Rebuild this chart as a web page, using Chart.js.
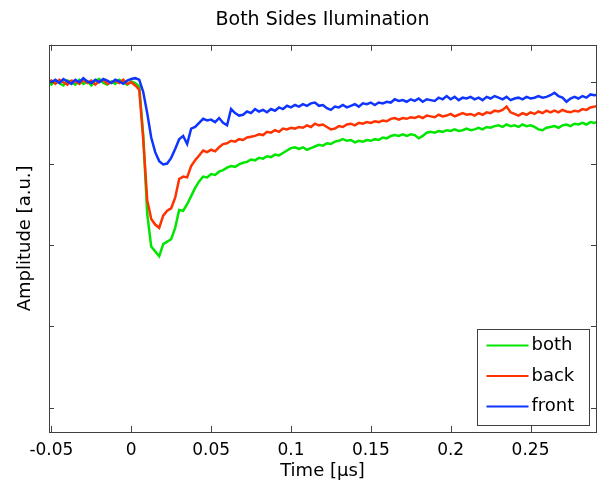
<!DOCTYPE html>
<html>
<head>
<meta charset="utf-8">
<script src="https://cdn.jsdelivr.net/npm/chart.js@4"></script>
<style>
  html, body { margin: 0; padding: 0; background: #fff; }
</style>
</head>
<body>
<canvas id="chart" width="602" height="485"></canvas>
<script>
// Tiempo (µs)
const time = [
  -0.0525, -0.05, -0.0475, -0.045, -0.0425, -0.04, -0.0375, -0.035, -0.0325, -0.03,
  -0.0275, -0.025, -0.0225, -0.02, -0.0175, -0.015, -0.0125, -0.01, -0.0075, -0.005,
  -0.0025, 0, 0.0025, 0.005, 0.0075, 0.01, 0.0125, 0.015, 0.0175, 0.02,
  0.0225, 0.025, 0.0275, 0.03, 0.0325, 0.035, 0.0375, 0.04, 0.0425, 0.045,
  0.0475, 0.05, 0.0525, 0.055, 0.0575, 0.06, 0.0625, 0.065, 0.0675, 0.07,
  0.0725, 0.075, 0.0775, 0.08, 0.0825, 0.085, 0.0875, 0.09, 0.0925, 0.095,
  0.0975, 0.1, 0.1025, 0.105, 0.1075, 0.11, 0.1125, 0.115, 0.1175, 0.12,
  0.1225, 0.125, 0.1275, 0.13, 0.1325, 0.135, 0.1375, 0.14, 0.1425, 0.145,
  0.1475, 0.15, 0.1525, 0.155, 0.1575, 0.16, 0.1625, 0.165, 0.1675, 0.17,
  0.1725, 0.175, 0.1775, 0.18, 0.1825, 0.185, 0.1875, 0.19, 0.1925, 0.195,
  0.1975, 0.2, 0.2025, 0.205, 0.2075, 0.21, 0.2125, 0.215, 0.2175, 0.22,
  0.2225, 0.225, 0.2275, 0.23, 0.2325, 0.235, 0.2375, 0.24, 0.2425, 0.245,
  0.2475, 0.25, 0.2525, 0.255, 0.2575, 0.26, 0.2625, 0.265, 0.2675, 0.27,
  0.2725, 0.275, 0.2775, 0.28, 0.2825, 0.285, 0.2875, 0.29, 0.2925
];

// Amplitud (u.a.) de cada iluminación
const both = [
  0.01, -0.03, 0.02, -0.01, -0.04, 0.02, 0.00, -0.03, 0.03, -0.02,
  0.01, -0.04, 0.02, 0.04, -0.01, -0.03, 0.01, -0.02, 0.03, 0.00,
  -0.03, 0.01, -0.01, -0.05, -0.65, -1.62, -2.02, -2.08, -2.14, -1.99,
  -1.96, -1.93, -1.79, -1.57, -1.58, -1.50, -1.40, -1.30, -1.22, -1.16,
  -1.17, -1.13, -1.14, -1.10, -1.08, -1.05, -1.03, -1.04, -1.01, -0.99,
  -0.98, -0.95, -0.96, -0.93, -0.94, -0.91, -0.92, -0.89, -0.90, -0.87,
  -0.84, -0.81, -0.80, -0.82, -0.80, -0.83, -0.81, -0.79, -0.77, -0.78,
  -0.75, -0.76, -0.73, -0.72, -0.70, -0.72, -0.71, -0.74, -0.72, -0.73,
  -0.71, -0.72, -0.70, -0.71, -0.68, -0.69, -0.66, -0.65, -0.66, -0.64,
  -0.66, -0.64, -0.65, -0.69, -0.66, -0.62, -0.61, -0.62, -0.60, -0.61,
  -0.59, -0.60, -0.58, -0.60, -0.59, -0.57, -0.59, -0.58, -0.56, -0.58,
  -0.55, -0.56, -0.54, -0.53, -0.55, -0.52, -0.54, -0.53, -0.55, -0.52,
  -0.54, -0.53, -0.55, -0.58, -0.59, -0.56, -0.55, -0.54, -0.56, -0.53,
  -0.52, -0.54, -0.51, -0.52, -0.50, -0.52, -0.49, -0.50, -0.48
];

const back = [
  -0.01, 0.02, -0.02, 0.03, 0.00, -0.03, 0.02, 0.01, -0.02, 0.03,
  -0.01, 0.02, -0.03, 0.01, 0.03, -0.02, 0.00, 0.02, -0.01, 0.03,
  -0.02, 0.00, -0.04, -0.09, -0.70, -1.45, -1.68, -1.75, -1.79, -1.64,
  -1.58, -1.55, -1.42, -1.19, -1.16, -1.17, -1.03, -0.96, -0.90, -0.84,
  -0.86, -0.83, -0.85, -0.80, -0.76, -0.75, -0.72, -0.73, -0.70, -0.71,
  -0.68, -0.67, -0.66, -0.64, -0.65, -0.61, -0.62, -0.59, -0.61, -0.57,
  -0.58, -0.56, -0.57, -0.55, -0.56, -0.53, -0.55, -0.51, -0.53, -0.52,
  -0.55, -0.58, -0.57, -0.54, -0.55, -0.52, -0.51, -0.53, -0.50, -0.51,
  -0.49, -0.50, -0.48, -0.49, -0.47, -0.48, -0.45, -0.44, -0.46, -0.44,
  -0.45, -0.43, -0.44, -0.42, -0.44, -0.41, -0.42, -0.43, -0.40, -0.42,
  -0.41, -0.39, -0.42, -0.40, -0.38, -0.40, -0.39, -0.41, -0.38, -0.40,
  -0.37, -0.38, -0.35, -0.36, -0.34, -0.30, -0.37, -0.39, -0.41, -0.38,
  -0.40, -0.37, -0.39, -0.36, -0.38, -0.35, -0.37, -0.35, -0.37, -0.34,
  -0.36, -0.37, -0.35, -0.36, -0.33, -0.34, -0.31, -0.30, -0.29
];

const front = [
  0.02, 0.00, 0.03, -0.01, 0.04, 0.01, -0.02, 0.03, 0.00, 0.05,
  0.01, -0.01, 0.03, 0.00, 0.04, 0.02, -0.01, 0.03, 0.01, -0.02,
  0.02, 0.04, 0.05, 0.03, -0.12, -0.38, -0.68, -0.86, -0.97, -1.01,
  -1.00, -0.93, -0.82, -0.70, -0.66, -0.76, -0.57, -0.55, -0.50, -0.45,
  -0.47, -0.46, -0.49, -0.44, -0.50, -0.53, -0.33, -0.38, -0.41, -0.40,
  -0.36, -0.38, -0.33, -0.36, -0.34, -0.37, -0.33, -0.35, -0.31, -0.33,
  -0.29, -0.31, -0.28, -0.30, -0.27, -0.29, -0.26, -0.25, -0.29, -0.28,
  -0.32, -0.34, -0.30, -0.31, -0.28, -0.31, -0.29, -0.27, -0.30, -0.26,
  -0.27, -0.25, -0.28, -0.25, -0.26, -0.24, -0.25, -0.21, -0.23, -0.22,
  -0.24, -0.21, -0.23, -0.20, -0.24, -0.21, -0.22, -0.23, -0.19, -0.21,
  -0.17, -0.21, -0.18, -0.22, -0.19, -0.20, -0.18, -0.21, -0.19, -0.22,
  -0.18, -0.20, -0.17, -0.19, -0.21, -0.18, -0.22, -0.20, -0.19, -0.21,
  -0.18, -0.20, -0.19, -0.17, -0.19, -0.18, -0.16, -0.13, -0.17, -0.19,
  -0.24, -0.20, -0.18, -0.20, -0.17, -0.19, -0.15, -0.16, -0.15
];

const xTicks = [-0.05, 0, 0.05, 0.1, 0.15, 0.2, 0.25];
const yTicks = [0, -1, -2, -3, -4];

const FONT = "'DejaVu Sans', sans-serif";

function toPoints(values) {
  return values.map((v, i) => ({ x: time[i], y: v }));
}

// Marco tipo MATLAB: caja, marcas hacia dentro y leyenda en la esquina
const matlabAxes = {
  id: "matlabAxes",
  afterDatasetsDraw(chart) {
    const { ctx, chartArea: a, scales } = chart;
    ctx.save();
    ctx.strokeStyle = "#404040";
    ctx.lineWidth = 1;
    ctx.beginPath();
    xTicks.forEach((v) => {
      const px = Math.round(scales.x.getPixelForValue(v)) + 0.5;
      ctx.moveTo(px, a.bottom);
      ctx.lineTo(px, a.bottom - 6);
      ctx.moveTo(px, a.top);
      ctx.lineTo(px, a.top + 6);
    });
    yTicks.forEach((v) => {
      const py = Math.round(scales.y.getPixelForValue(v)) + 0.5;
      ctx.moveTo(a.left, py);
      ctx.lineTo(a.left + 5, py);
      ctx.moveTo(a.right, py);
      ctx.lineTo(a.right - 5, py);
    });
    ctx.stroke();
    ctx.strokeRect(Math.round(a.left) + 0.5, Math.round(a.top) + 0.5,
      Math.round(a.right - a.left), Math.round(a.bottom - a.top));

    // Leyenda
    const w = 112, h = 96;
    const bx = Math.round(a.right - 7 - w) + 0.5;
    const by = Math.round(a.bottom - 7 - h) + 0.5;
    ctx.fillStyle = "#fff";
    ctx.fillRect(bx, by, w, h);
    ctx.strokeRect(bx, by, w, h);
    ctx.font = "18px " + FONT;
    ctx.textBaseline = "middle";
    ctx.textAlign = "left";
    chart.data.datasets.forEach((ds, i) => {
      const y = by + 16 + i * 30.5;
      ctx.strokeStyle = ds.borderColor;
      ctx.lineWidth = 2;
      ctx.beginPath();
      ctx.moveTo(bx + 9, y);
      ctx.lineTo(bx + 51, y);
      ctx.stroke();
      ctx.fillStyle = "#000";
      ctx.fillText(ds.label, bx + 54, y);
    });
    ctx.restore();
  },
};

new Chart(document.getElementById("chart"), {
  type: "line",
  data: {
    datasets: [
      { label: "both", data: toPoints(both), borderColor: "#00e600", order: 2 },
      { label: "back", data: toPoints(back), borderColor: "#ff3300", order: 1 },
      { label: "front", data: toPoints(front), borderColor: "#1035ff", order: 0 },
    ],
  },
  options: {
    responsive: false,
    animation: false,
    devicePixelRatio: 1,
    elements: {
      point: { radius: 0 },
      line: { borderWidth: 2.5, tension: 0 },
    },
    layout: { padding: { right: 6 } },
    plugins: {
      legend: { display: false },
      tooltip: { enabled: false },
      title: {
        display: true,
        text: "Both Sides Ilumination",
        fullSize: false,
        color: "#000",
        font: { family: FONT, size: 19, weight: "normal" },
        padding: { top: 9, bottom: 13 },
      },
    },
    scales: {
      x: {
        type: "linear",
        min: -0.0515,
        max: 0.291,
        afterBuildTicks: (s) => { s.ticks = xTicks.map((v) => ({ value: v })); },
        afterFit: (s) => { s.height = 53; },
        grid: { display: false, drawTicks: false },
        border: { display: false },
        ticks: {
          color: "#000",
          font: { family: FONT, size: 17 },
          padding: 8,
          maxRotation: 0,
          autoSkip: false,
          callback: (v) => String(v),
        },
        title: {
          display: true,
          text: "Time [µs]",
          color: "#000",
          font: { family: FONT, size: 18 },
          padding: { top: 0, bottom: 3 },
        },
      },
      y: {
        type: "linear",
        min: -4.3,
        max: 0.46,
        afterBuildTicks: (s) => { s.ticks = yTicks.map((v) => ({ value: v })); },
        afterFit: (s) => { s.width = 49; },
        grid: { display: false, drawTicks: false },
        border: { display: false },
        ticks: { display: false },
        title: {
          display: true,
          text: "Amplitude [a.u.]",
          color: "#000",
          font: { family: FONT, size: 18 },
          padding: { top: 15, bottom: 0 },
        },
      },
    },
  },
  plugins: [matlabAxes],
});
</script>
</body>
</html>
